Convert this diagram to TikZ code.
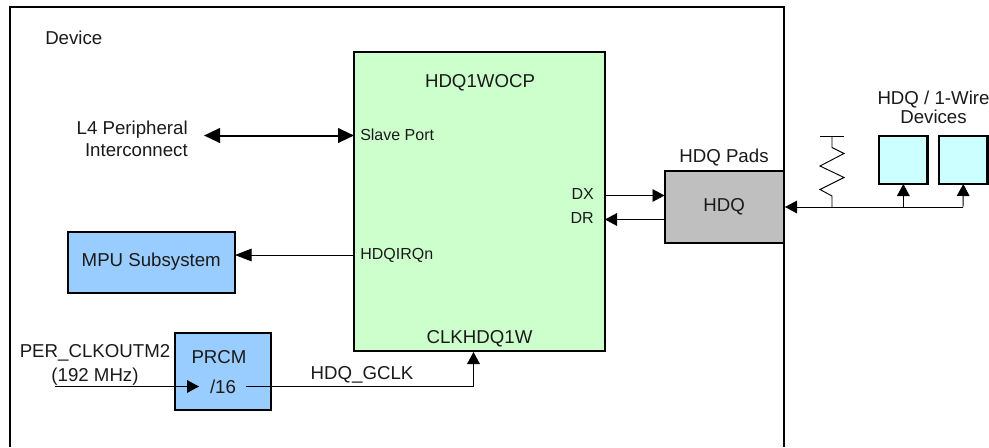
\documentclass[tikz,border=0pt]{standalone}
\usepackage{fontspec}
\setmainfont{Liberation Sans}
\usetikzlibrary{arrows.meta,positioning,calc}
\definecolor{blockGreen}{HTML}{CCFFCC}
\definecolor{blockBlue}{HTML}{99CCFF}
\definecolor{blockCyan}{HTML}{CCFFFF}
\definecolor{blockPad}{HTML}{BFBFBF}
\definecolor{labelInk}{HTML}{1A1A1A}
\tikzset{
  block/.style={
    rectangle, draw=black, line width=1.5pt, outer sep=0pt, inner sep=0pt,
    anchor=north west, font=\fontsize{14}{16}\selectfont, text=labelInk
  },
  label/.style={font=\fontsize{14}{16.5}\selectfont, text=labelInk, inner sep=0pt, align=center},
  port/.style={font=\fontsize{12}{14}\selectfont, text=labelInk, inner sep=0pt},
  wire/.style={-{Triangle[length=9pt,width=9.5pt]}, line width=0.7pt, draw=black},
  bus/.style={{Triangle[length=12pt,width=11pt]}-{Triangle[length=12pt,width=11pt]}, line width=1.5pt, draw=black},
  plain/.style={line width=0.7pt, draw=black}
}
\begin{document}
\begin{tikzpicture}[x=0.75pt, y=-0.75pt]
  \useasboundingbox (0,0) rectangle (989,447);
  % --- device outline, open at the bottom
  \coordinate (devBL) at (9.5,447);
  \coordinate (devBR) at (784,447);
  \draw[line width=1.5pt] (devBL) |- (784,7) -- (devBR);
  \node[label, anchor=base west] (device) at (45,44.5) {Device};

  % --- blocks
  \node[block, fill=blockGreen, minimum width=188.25pt, minimum height=224pt] (hdqw) at (354,52) {};
  \node[block, fill=blockBlue, minimum width=125.6pt, minimum height=46pt] (mpu) at (67.5,231.5) {MPU Subsystem};
  \node[block, fill=blockBlue, minimum width=72pt, minimum height=57.5pt] (prcm) at (175,333) {};
  \node[block, fill=blockPad, minimum width=89.5pt, minimum height=54pt] (pad) at (664.5,171) {HDQ};
  \node[block, fill=blockCyan, line width=1.9pt, minimum width=36.5pt, minimum height=36pt] (dev1) at (879,136) {};
  \node[block, fill=blockCyan, line width=1.9pt, minimum width=36.5pt, minimum height=36pt] (dev2) at (939,136) {};

  % --- texts
  \node[label, anchor=base] (title) at (480,87) {HDQ1WOCP};
  \node[label, anchor=base] (clkw) at (479.5,343) {CLKHDQ1W};
  \node[port, anchor=base west] (slave) at (360,140.5) {Slave Port};
  \node[port, anchor=base west] (irq) at (360,259.5) {HDQIRQn};
  \node[port, anchor=base east] (dx) at (594,199.5) {DX};
  \node[port, anchor=base east] (dr) at (594,223) {DR};
  \node[label, anchor=east, align=right] (l4) at (188,139) {L4 Peripheral\\Interconnect};
  \node[label, anchor=base] (clkout) at (95,357) {PER\_CLKOUTM2};
  \node[label, anchor=base] (mhz) at (95,381) {(192 MHz)};
  \node[label, anchor=base] (prcmt) at (219,363) {PRCM};
  \node[label, anchor=base] (div) at (223,393) {/16};
  \node[label, anchor=base] (gclk) at (362,379) {HDQ\_GCLK};
  \node[label, anchor=base] (pads) at (724,162) {HDQ Pads};
  \node[label, anchor=south, font=\fontsize{14}{14.5}\selectfont] (wires) at (933.5,124) {HDQ / 1-Wire\\Devices};

  % --- free ends
  \coordinate (l4end) at (204,135.5);
  \coordinate (irqout) at (354,255);
  \coordinate (clkin) at (55,386.5);
  \coordinate (clkdiv) at (199,386.5);
  \coordinate (divout) at (246,386.5);
  \coordinate (divturn) at (473.5,386.5);
  \coordinate (clkhdq) at (473.5,352);
  \coordinate (busR) at (963,207);
  \coordinate (busL) at (785,207);
  \coordinate (resB) at (832,207);
  \coordinate (resT) at (832,136);
  \coordinate (resBarL) at (820,136);
  \coordinate (resBarR) at (844,136);

  % --- arrows
  \draw[bus] (l4end) -- (hdqw.west |- l4end);
  \draw[wire, -{Triangle[length=12.5pt,width=9.5pt]}] (irqout) -- (mpu.east |- irqout);
  \draw[wire] (hdqw.east |- 0,195.5) -- (pad.west |- 0,195.5);
  \draw[wire] (pad.west |- 0,219.5) -- (hdqw.east |- 0,219.5);
  \draw[wire] (clkin) -- (clkdiv);
  \draw[wire] (divout) -- (divturn) -- (clkhdq);
  \draw[wire] (busR) -- (busL);
  \draw[wire] (resB -| dev1.south) -- (dev1.south);
  \draw[wire] (busR) -- (dev2.south);

  % --- pull-up
  \draw[plain] (resBarL) -- (resBarR);
  \draw[plain] (resT) -- ++(0,11.5) -- ++(12,6) -- ++(-24,12.5) -- ++(24,11.5) -- ++(-24,12) -- ++(12,6.5) -- (resB);
\end{tikzpicture}
\end{document}
